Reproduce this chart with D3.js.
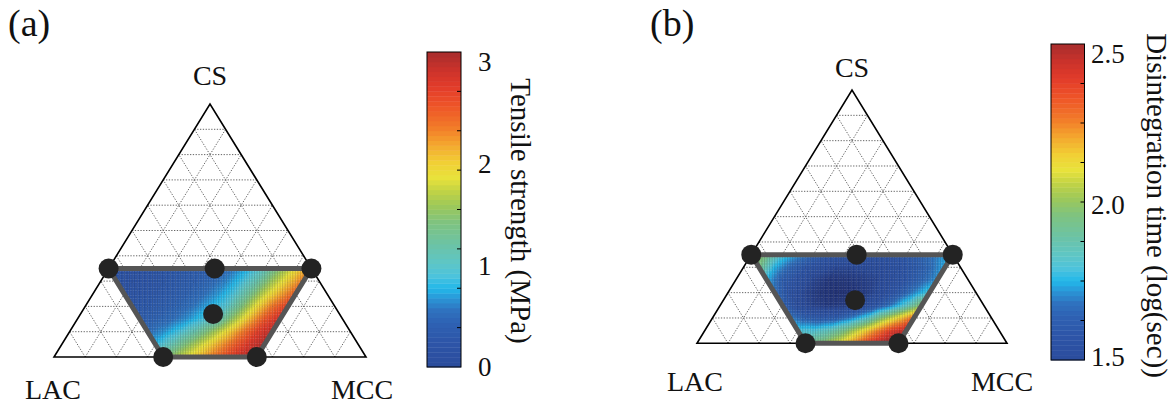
<!DOCTYPE html>
<html>
<head>
<meta charset="utf-8">
<script src="https://cdn.jsdelivr.net/npm/d3@7"></script>
<style>
body{margin:0;background:#fff;}
</style>
</head>
<body>
<script>
var width=1173,height=407;

// lattice of the response surface: rows = CS level, columns = MCC level (LAC = 1-CS-MCC)
var csLevels=[0,0.05,0.10,0.15,0.20,0.25,0.30,0.35];
var mccLevels=[0,0.05,0.10,0.15,0.20,0.25,0.30,0.35,0.40,0.45,0.50,0.55,0.60,0.65];
var n=null;
// tensile strength (MPa)
var tensile=[
	[n,n,n,n,n,n,n,1.35,1.70,2.02,2.32,2.62,2.90,3.10],
	[n,n,n,n,n,n,0.80,1.10,1.45,1.80,2.15,2.48,2.80,3.05],
	[n,n,n,n,n,0.52,0.66,0.88,1.15,1.50,1.90,2.32,2.70,3.00],
	[n,n,n,n,0.38,0.44,0.52,0.66,0.86,1.08,1.58,2.08,2.55,2.88],
	[n,n,n,0.28,0.33,0.39,0.47,0.58,0.76,0.95,1.40,1.92,2.38,2.72],
	[n,n,0.22,0.26,0.30,0.36,0.43,0.52,0.68,0.90,1.28,1.75,2.15,2.52],
	[n,0.18,0.21,0.25,0.29,0.34,0.40,0.48,0.62,0.85,1.15,1.60,2.00,2.38],
	[0.15,0.18,0.21,0.25,0.29,0.33,0.38,0.45,0.58,0.78,1.05,1.48,1.90,2.25]
];
// disintegration time (log(sec))
var disint=[
	[n,n,n,n,n,n,n,1.90,1.98,2.10,2.25,2.40,2.53,2.62],
	[n,n,n,n,n,n,1.80,1.80,1.85,1.95,2.10,2.25,2.40,2.50],
	[n,n,n,n,n,1.70,1.63,1.60,1.62,1.70,1.82,2.00,2.15,2.32],
	[n,n,n,n,1.65,1.52,1.46,1.43,1.44,1.48,1.57,1.68,1.82,2.00],
	[n,n,n,1.68,1.56,1.47,1.42,1.40,1.41,1.45,1.52,1.60,1.70,1.80],
	[n,n,1.75,1.62,1.55,1.47,1.42,1.42,1.44,1.47,1.52,1.58,1.65,1.72],
	[n,1.95,1.75,1.65,1.58,1.52,1.48,1.48,1.50,1.52,1.56,1.60,1.66,1.74],
	[2.05,1.95,1.80,1.72,1.65,1.60,1.58,1.56,1.56,1.57,1.60,1.65,1.70,1.75]
];

// design points
var designLAC=[0.65,0.31,0,0.405,0.65,0.35];
var designMCC=[0,0.34,0.65,0.425,0.35,0.65];
var designCS=[0.35,0.35,0.35,0.17,0,0];

// experimental region (trapezoid corners)
var regionMCC=[0,0.65,0.65,0.35];
var regionCS=[0.35,0.35,0,0];

var tensileTicks=[0,1,2,3];
var disintTicks=[1.5,2.0,2.5];
var vertexNames=["CS","LAC","MCC"];

// colormap
var cmapPos=[-0.15,0,0.08,0.14,0.18,0.22,0.25,0.29,0.33,0.39,0.46,0.51,0.56,0.60,0.65,0.71,0.76,0.83,0.89,0.94,1.0,1.1];
var cmapCol=["#1b1f5a","#2b4c9c","#2d55a8","#2e62b3","#2f72bf","#2a98d8","#22b8ea","#4dc3dc","#5ec6c6","#6cc3a5","#7fc37f","#9cc85a","#c2d345","#e8e33b","#f1cf35","#f4a42e","#f27c29","#ee5428","#e23b2a","#cd332b","#a82d2d","#8a2020"];

var serif='"Liberation Serif","DejaVu Serif","Times New Roman",serif';

var svg=d3.select("body").append("svg")
	.attr("width",width)
	.attr("height",height)
	.attr("font-family",serif);
var defs=svg.append("defs");

var cmap=d3.scaleLinear().domain(cmapPos).range(cmapCol).clamp(true);

function lookup(grid,c,m){
	c=Math.max(0,Math.min(0.35,c));
	m=Math.max(Math.max(0,0.35-c),Math.min(0.65,m));
	var i=c/0.05,j=m/0.05;
	var i0=Math.min(Math.floor(i),6),j0=Math.min(Math.floor(j),12);
	var fi=i-i0,fj=j-j0;
	var g=function(a,b){return grid[a][b]||0;};
	if(fi+fj<=1){
		return g(i0,j0)*(1-fi-fj)+g(i0+1,j0)*fi+g(i0,j0+1)*fj;
	}
	return g(i0+1,j0+1)*(fi+fj-1)+g(i0+1,j0)*(1-fj)+g(i0,j0+1)*(1-fi);
}

var panels=[
	{grid:tensile,domain:[0,3.09],ticks:tensileTicks,fmt:d3.format("d"),label:"(a)",labelX:8,
	 title:"Tensile strength (MPa)",x0:54,x1:366,yBase:357,yApex:104,
	 barX:427,barW:34,barY0:52,barY1:367,tickX:478,titleX:511,titleY:211,
	 csY:85,baseY:399,lacX:53,mccX:362},
	{grid:disint,domain:[1.49,2.53],ticks:disintTicks,fmt:d3.format(".1f"),label:"(b)",labelX:650,
	 title:"Disintegration time (log(sec))",x0:697,x1:1007,yBase:343.3,yApex:90,
	 barX:1051,barW:33.5,barY0:44,barY1:360,tickX:1091,titleX:1147,titleY:205.5,
	 csY:77,baseY:391,lacX:695,mccX:1002}
];

panels.forEach(function(p,idx){
	var xs=d3.scaleLinear().domain([0,1]).range([p.x0,p.x1]);
	var ys=d3.scaleLinear().domain([0,1]).range([p.yBase,p.yApex]);
	var f=d3.scaleLinear().domain(p.domain).range([0,1]);
	function pt(m,c){return [xs(m+c/2),ys(c)];}
	var g=svg.append("g");

	// dotted ternary grid
	var lines=[];
	d3.range(1,10).forEach(function(k){
		var t=k/10;
		lines.push([pt(0,t),pt(1-t,t)]);
		lines.push([pt(t,0),pt(t,1-t)]);
		lines.push([pt(1-t,0),pt(0,1-t)]);
	});
	g.selectAll(".grid").data(lines).enter().append("line")
		.attr("class","grid")
		.attr("x1",function(d){return d[0][0];}).attr("y1",function(d){return d[0][1];})
		.attr("x2",function(d){return d[1][0];}).attr("y2",function(d){return d[1][1];})
		.attr("stroke","#666").attr("stroke-width",1).attr("stroke-dasharray","1.3,1.5");

	// heat map clipped to the region
	var trap=regionMCC.map(function(m,i){return pt(m,regionCS[i]);});
	defs.append("clipPath").attr("id","trap"+idx)
		.append("polygon").attr("points",trap.map(function(q){return q.join(",");}).join(" "));
	var left=pt(0,0.35)[0]-2,right=pt(0.65,0.35)[0]+2,top=ys(0.35)-2,bot=ys(0)+2;
	var cw=2.55,ch=1.6;
	var cells=[],cols=[];
	for(var cx=left;cx<right;cx+=cw){
		cols.push(cx);
		for(var cy=top;cy<bot;cy+=ch){
			var c=ys.invert(cy+ch/2),m=xs.invert(cx+cw/2)-c/2;
			cells.push({x:cx,y:cy,v:lookup(p.grid,c,m)});
		}
	}
	var hm=g.append("g").attr("clip-path","url(#trap"+idx+")");
	hm.selectAll("rect").data(cells).enter().append("rect")
		.attr("x",function(d){return d.x;}).attr("y",function(d){return d.y;})
		.attr("width",cw+0.3).attr("height",ch+0.3)
		.attr("fill",function(d){return cmap(f(d.v));});
	hm.selectAll("line").data(cols).enter().append("line")
		.attr("x1",function(d){return d;}).attr("x2",function(d){return d;})
		.attr("y1",top).attr("y2",bot)
		.attr("stroke","#000").attr("stroke-opacity",0.28).attr("stroke-width",0.6);

	// triangle frame
	g.append("polygon")
		.attr("points",[pt(0,0),pt(1,0),pt(0,1)].map(function(q){return q.join(",");}).join(" "))
		.attr("fill","none").attr("stroke","#000").attr("stroke-width",1.6);

	// region outline
	g.append("polygon")
		.attr("points",trap.map(function(q){return q.join(",");}).join(" "))
		.attr("fill","none").attr("stroke","#555").attr("stroke-width",5).attr("stroke-linejoin","round");

	// design points
	g.selectAll(".pt").data(designMCC).enter().append("circle")
		.attr("class","pt")
		.attr("cx",function(d,i){return pt(d,designCS[i])[0];})
		.attr("cy",function(d,i){return pt(d,designCS[i])[1];})
		.attr("r",10).attr("fill","#232323");

	// labels
	var tg=g.append("g").attr("fill","#111").attr("font-family",serif);
	tg.append("text").attr("x",p.labelX).attr("y",36).attr("font-size",38).text(p.label);
	tg.append("text").attr("x",xs(0.5)).attr("y",p.csY).attr("text-anchor","middle").attr("font-size",28).text(vertexNames[0]);
	tg.append("text").attr("x",p.lacX).attr("y",p.baseY).attr("text-anchor","middle").attr("font-size",28).text(vertexNames[1]);
	tg.append("text").attr("x",p.mccX).attr("y",p.baseY).attr("text-anchor","middle").attr("font-size",28).text(vertexNames[2]);

	// colorbar
	var nb=64,bh=(p.barY1-p.barY0)/nb;
	var yb=d3.scaleLinear().domain(p.domain).range([p.barY1,p.barY0]);
	g.selectAll(".band").data(d3.range(nb)).enter().append("rect")
		.attr("class","band")
		.attr("x",p.barX).attr("width",p.barW)
		.attr("y",function(k){return p.barY1-(k+1)*bh;}).attr("height",bh+0.4)
		.attr("fill",function(k){return cmap((k+0.5)/nb);});
	g.append("rect").attr("x",p.barX).attr("y",p.barY0).attr("width",p.barW).attr("height",p.barY1-p.barY0)
		.attr("fill","none").attr("stroke","#000").attr("stroke-width",1);
	g.selectAll(".mt").data(d3.range(1,8)).enter().append("line")
		.attr("class","mt")
		.attr("x1",p.barX+p.barW-4).attr("x2",p.barX+p.barW)
		.attr("y1",function(k){return p.barY0+k*(p.barY1-p.barY0)/8;})
		.attr("y2",function(k){return p.barY0+k*(p.barY1-p.barY0)/8;})
		.attr("stroke","#000").attr("stroke-width",1);
	tg.selectAll(".tl").data(p.ticks).enter().append("text")
		.attr("class","tl")
		.attr("x",p.tickX).attr("y",function(d){return yb(d);}).attr("dy","0.35em")
		.attr("font-size",27).text(p.fmt);
	tg.append("text")
		.attr("transform","translate("+p.titleX+","+p.titleY+") rotate(90)")
		.attr("text-anchor","middle").attr("font-size",29).text(p.title);
});
</script>
</body>
</html>
